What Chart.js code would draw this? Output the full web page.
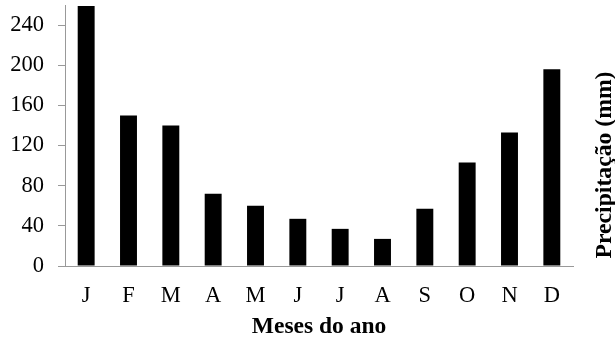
<!DOCTYPE html>
<html>
<head>
<meta charset="utf-8">
<script src="https://cdn.jsdelivr.net/npm/chart.js@4.4.1/dist/chart.umd.min.js"></script>
<style>
html,body{margin:0;padding:0;background:#fff;}
#wrap{width:615px;height:342px;position:relative;}
</style>
</head>
<body>
<div id="wrap"><canvas id="c" width="615" height="342"></canvas></div>
<script>
const months = ["J","F","M","A","M","J","J","A","S","O","N","D"];
const precipitation = [259,150,140,72,60,47,37,27,57,103,133,196];
const yTickValues = [0,40,80,120,160,200,240];
const xTitle = "Meses do ano";
const yTitle = "Precipitação (mm)";

const FONT = "'Liberation Serif','Times New Roman',serif";

const sideTitle = {
  id: 'sideTitle',
  afterDraw(chart) {
    const ctx = chart.ctx;
    ctx.save();
    ctx.font = "bold 23.7px " + FONT;
    ctx.fillStyle = "#000";
    ctx.textAlign = "center";
    ctx.textBaseline = "alphabetic";
    ctx.translate(611, 165);
    ctx.rotate(-Math.PI/2);
    ctx.fillText(yTitle, 0, 0);
    ctx.restore();
  }
};

new Chart(document.getElementById('c'), {
  type: 'bar',
  data: {
    labels: months,
    datasets: [{
      data: precipitation,
      backgroundColor: '#000',
      borderWidth: 0,
      categoryPercentage: 1.0,
      barPercentage: 0.4
    }]
  },
  options: {
    responsive: false,
    animation: false,
    events: [],
    layout: { padding: { left: 0, right: 42, top: 5, bottom: 0 } },
    plugins: { legend: { display: false }, tooltip: { enabled: false } },
    scales: {
      x: {
        grid: { display: false },
        border: { display: true, color: '#999', width: 1 },
        ticks: { color: '#000', font: { family: FONT, size: 22.5 }, padding: 9, maxRotation: 0, autoSkip: false },
        title: { display: true, text: xTitle, color: '#000', font: { family: FONT, size: 23.5, weight: 'bold' }, padding: { top: 0, bottom: 1 } },
        afterFit(s) { s.height = 76; s.paddingLeft = 0; s.paddingRight = 0; }
      },
      y: {
        min: 0, max: 260,
        grid: { display: true, drawOnChartArea: false, drawTicks: true, tickLength: 7, color: '#999' },
        border: { display: true, color: '#999', width: 1 },
        ticks: { color: '#000', font: { family: FONT, size: 22.5 }, padding: 14, stepSize: 40 },
        afterBuildTicks(s) { s.ticks = yTickValues.map(v => ({ value: v })); },
        afterFit(s) { s.width = 65; s.paddingTop = 0; s.paddingBottom = 0; }
      }
    }
  },
  plugins: [sideTitle]
});
</script>
</body>
</html>
